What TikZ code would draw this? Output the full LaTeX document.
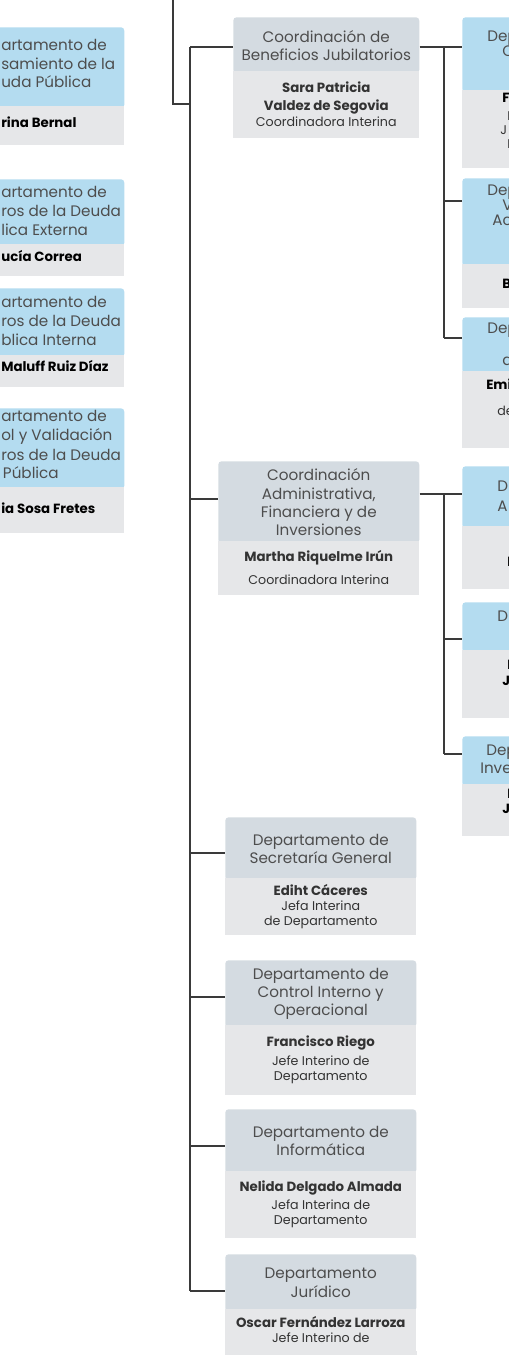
\documentclass[tikz,border=0pt]{standalone}
\usepackage{fontspec}
\setmainfont{Poppins}
\definecolor{hdrgray}{HTML}{D4DBE1}
\definecolor{bodygray}{HTML}{E6E7E9}
\definecolor{hdrblue}{HTML}{B4DCF0}
\definecolor{linegray}{HTML}{3A3A3A}
\definecolor{txtgray}{HTML}{4D4D4D}
\newcommand{\hdrfont}{\fontsize{11.4}{13.7}\selectfont}
\newcommand{\namefont}{\fontsize{10}{13.5}\selectfont\bfseries}
\newcommand{\rolefont}{\fontsize{9.5}{11.25}\selectfont}

\begin{document}
\begin{tikzpicture}[x=0.75pt, y=-0.75pt,
		conn/.style={draw=linegray, line width=0.9pt},
		boxsize/.style 2 args={minimum width=#1*0.75pt, minimum height=#2*0.75pt},
		head/.style={anchor=north west, fill=hdrgray, rounded corners=2.5pt, inner sep=0pt, align=center, text=txtgray, font=\hdrfont},
		headblue/.style={head, fill=hdrblue},
		body/.style={anchor=north, fill=bodygray, inner sep=0pt, align=center, text=black!80, font=\rolefont},
		frag/.style={inner sep=0pt, text=txtgray, font=\hdrfont},
		fragb/.style={inner sep=0pt, text=black, font=\namefont}]
		
		\clip (0,0) rectangle (509,1355);
		
		% coordinaciones
		\node[head, boxsize={186}{56}] (c1h) at (233,17) {Coordinación de\\Beneficios Jubilatorios};
		\node[body, boxsize={186}{67}] (c1b) at ([yshift=2.25pt]c1h.south) {\namefont Sara Patricia\\[2.25pt]\namefont Valdez de Segovia\\[1pt]Coordinadora Interina};
		\node[head, boxsize={201}{82}] (c2h) at (218,461) {Coordinación\\Administrativa,\\Financiera y de\\Inversiones};
		\node[body, boxsize={201}{54}] (c2b) at ([yshift=2.25pt]c2h.south) {\namefont Martha Riquelme Irún\\[6pt]Coordinadora Interina};
		
		% departamentos
		\node[head, boxsize={191}{63}] (d1h) at (225,817) {Departamento de\\Secretaría General};
		\node[body, boxsize={191}{57}] (d1b) at ([yshift=2.25pt]d1h.south) {\namefont Ediht Cáceres\\Jefa Interina\\de Departamento};
		\node[head, boxsize={191}{67}] (d2h) at (225,960) {Departamento de\\Control Interno y\\Operacional};
		\node[body, boxsize={191}{70}] (d2b) at ([yshift=2.25pt]d2h.south) {\namefont Francisco Riego\\[3pt]Jefe Interino de\\Departamento};
		\node[head, boxsize={191}{64}] (d3h) at (225,1109) {Departamento de\\Informática};
		\node[body, boxsize={191}{67}] (d3b) at ([yshift=2.25pt]d3h.south) {\namefont Nelida Delgado Almada\\[2pt]Jefa Interina de\\Departamento};
		\node[head, boxsize={191}{57}] (d4h) at (225,1254) {Departamento\\Jurídico};
		\node[body, boxsize={191}{42}] (d4b) at ([yshift=2.25pt]d4h.south) {\namefont Oscar Fernández Larroza\\Jefe Interino de};
		\fill[bodygray] (d4b.south west) rectangle ([yshift=-20pt]d4b.south east);
		
		% columna izquierda
		\foreach \n/\y/\hh/\bh in {l1/27/81/39, l2/179/67/32, l3/288/69/32, l4/408/81/46} {
			\node[headblue, boxsize={204}{\hh}] (\n h) at (-80,\y) {};
			\node[body, boxsize={204}{\bh}] (\n b) at ([yshift=2.25pt]\n h.south) {};
		}
		% columna derecha
		\foreach \n/\y/\hh/\bh in {r1/17/75/78, r2/178/88/44, r3/317/56/77, r4/466/62/63, r5/602/50/68, r6/736/50/52} {
			\node[headblue, boxsize={190}{\hh}] (\n h) at (462,\y) {};
			\node[body, boxsize={190}{\bh}] (\n b) at ([yshift=2.25pt]\n h.south) {};
		}
		
		\foreach \y/\t [count=\i] in {47/artamento de, 66/samiento de la, 84/uda Pública,
			194/artamento de, 213/ros de la Deuda, 232/lica Externa,
			304/artamento de, 323/ros de la Deuda, 342/blica Interna,
			418/artamento de, 437/ol y Validación, 457/ros de la Deuda} {
			\node[frag, anchor=mid west] (lt\i) at (1,\y) {\t};
		}
		\node[frag, anchor=mid east] (lt13) at (59,475) {Pública};
		\foreach \y/\t [count=\i] in {124/rina Bernal, 258/ucía Correa, 368/Maluff Ruiz Díaz, 510/ia Sosa Fretes} {
			\node[fragb, anchor=mid west] (ln\i) at (1,\y) {\t};
		}
		\foreach \x/\y/\t [count=\i] in {487/38/Dep, 502/53/C, 487/192/Dep, 502/207/V, 492/222/Ac,
			487/330/Dep, 502/362/a, 497/488/D, 497/508/A, 497/618/D, 486/752/Dep, 480/770/Inve} {
			\node[frag, anchor=mid west] (rt\i) at (\x,\y) {\t};
		}
		\foreach \x/\y/\t [count=\i] in {507/117/I, 500/131/J, 507/145/I, 497/412/de} {
			\node[frag, font=\rolefont, text=black!80, anchor=mid west] (rr\i) at (\x,\y) {\t};
		}
		\foreach \x/\y/\t [count=\i] in {502/99/F, 502/285/B, 486/386/Emi, 507/563/I, 507/666/I, 502/682/J, 507/795/I, 502/810/J} {
			\node[fragb, anchor=mid west] (rn\i) at (\x,\y) {\t};
		}
		
		% conectores
		\coordinate (top) at (173,-2);
		\coordinate (bend) at (173,104);
		\coordinate (trunk) at (190,104);
		\draw[conn] (top) -- (bend) -- (trunk);
		\foreach \j/\n/\y in {jc1/c1h/47, jc2/c2h/499, jd1/d1h/853, jd2/d2h/997, jd3/d3h/1146, jd4/d4h/1291} {
			\coordinate (\j) at (190,\y);
			\draw[conn] (\j) -- (\j -| \n.west);
		}
		\draw[conn] (jc1) -- (jd4);
		
		\foreach \j/\y in {jr1/47, jr2/201, jr3/338, jr4/494, jr5/639, jr6/754} {
			\coordinate (\j) at (444,\y);
		}
		\draw[conn] (jr1 -| c1h.east) -- (jr1 -| r1h.west);
		\draw[conn] (jr4 -| c2h.east) -- (jr4 -| r4h.west);
		\foreach \j/\n in {jr2/r2h, jr3/r3h, jr5/r5h, jr6/r6h} {
			\draw[conn] (\j) -- (\j -| \n.west);
		}
		\draw[conn] (jr1) -- (jr3);
		\draw[conn] (jr4) -- (jr6);
		
	\end{tikzpicture}
\end{document}
